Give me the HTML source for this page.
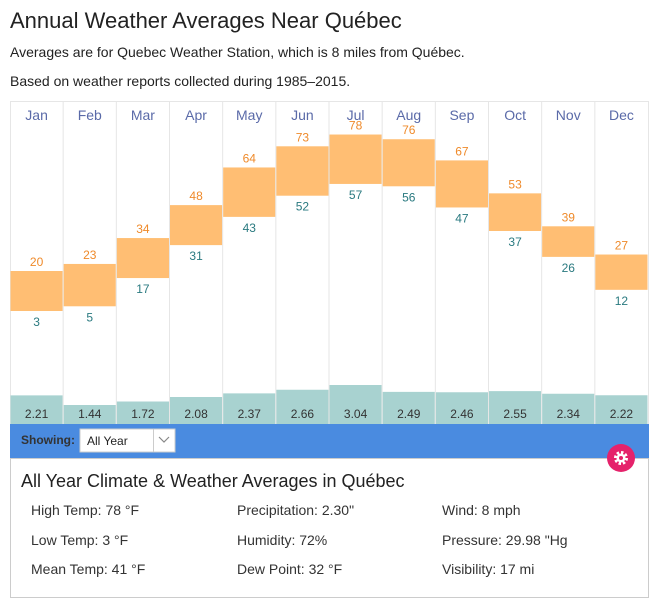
<!DOCTYPE html><html><head><meta charset="utf-8"><style>
body{margin:0;width:661px;height:606px;background:#fff;font-family:"Liberation Sans",sans-serif;color:#222;position:relative;overflow:hidden}
.a{position:absolute;white-space:nowrap}
</style></head><body>
<div class="a" style="left:10px;top:8px;font-size:22px;color:#222">Annual Weather Averages Near Québec</div>
<div class="a" style="left:10px;top:44px;font-size:14px">Averages are for Quebec Weather Station, which is 8 miles from Québec.</div>
<div class="a" style="left:10px;top:73px;font-size:14px">Based on weather reports collected during 1985–2015.</div>
<svg class="a" style="left:0;top:0" width="661" height="606" font-family="Liberation Sans, sans-serif">
<rect x="10.5" y="101.5" width="638" height="323" fill="none" stroke="#e6e6e6"/>
<g id="g"></g>
<rect x="10" y="424" width="639" height="34" fill="#4a8be0"/>
<text x="21" y="444" font-size="12" font-weight="bold" fill="#333">Showing:</text>
<rect x="80" y="429" width="95" height="23" fill="#fff" stroke="#ccc"/>
<line x1="153.5" y1="429" x2="153.5" y2="452" stroke="#ccc"/>
<text x="87" y="445" font-size="12" fill="#222">All Year</text>
<polyline points="159,437 164,442 169,437" fill="none" stroke="#888" stroke-width="1.2"/>
<rect x="10.5" y="458.5" width="638" height="139" fill="none" stroke="#ccc"/>
<circle cx="621" cy="458" r="14" fill="#e5226b"/>
<circle cx="621" cy="458" r="5" fill="none" stroke="#fff" stroke-width="4" stroke-dasharray="2.2 1.7"/>
<circle cx="621" cy="458" r="4.5" fill="#fff"/><circle cx="621" cy="458" r="2" fill="#e5226b"/>
<text x="21" y="487" font-size="18" fill="#222">All Year Climate &amp; Weather Averages in Québec</text>
<g font-size="14" fill="#333">
<text x="31" y="515">High Temp: 78 °F</text><text x="237" y="515">Precipitation: 2.30"</text><text x="442" y="515">Wind: 8 mph</text>
<text x="31" y="545">Low Temp: 3 °F</text><text x="237" y="545">Humidity: 72%</text><text x="442" y="545">Pressure: 29.98 "Hg</text>
<text x="31" y="574">Mean Temp: 41 °F</text><text x="237" y="574">Dew Point: 32 °F</text><text x="442" y="574">Visibility: 17 mi</text>
</g>
</svg>
<script>
var m=["Jan","Feb","Mar","Apr","May","Jun","Jul","Aug","Sep","Oct","Nov","Dec"],
hi=[20,23,34,48,64,73,78,76,67,53,39,27],lo=[3,5,17,31,43,52,57,56,47,37,26,12],
p=[2.21,1.44,1.72,2.08,2.37,2.66,3.04,2.49,2.46,2.55,2.34,2.22],s="",w=638/12;
function y(t){return 318.06-2.353*t}
for(var i=0;i<12;i++){var x=10+i*w,c=x+w/2;
if(i>0)s+='<line x1="'+x+'" y1="101" x2="'+x+'" y2="424" stroke="#e6e6e6"/>';
s+='<text x="'+c+'" y="120" font-size="14" fill="#5a6aa8" text-anchor="middle">'+m[i]+'</text>';
s+='<rect x="'+(x+0.5)+'" y="'+y(hi[i])+'" width="'+(w-1)+'" height="'+(y(lo[i])-y(hi[i]))+'" fill="#ffbe73"/>';
s+='<text x="'+c+'" y="'+(y(hi[i])-5)+'" font-size="12" fill="#ef8a2a" text-anchor="middle">'+hi[i]+'</text>';
s+='<text x="'+c+'" y="'+(y(lo[i])+15)+'" font-size="12" fill="#2a7a80" text-anchor="middle">'+lo[i]+'</text>';
var t=423-12.5*p[i];
s+='<rect x="'+(x+0.5)+'" y="'+t+'" width="'+(w-1)+'" height="'+(424-t)+'" fill="#a8d2d0"/>';
s+='<text x="'+c+'" y="418" font-size="12" fill="#333" text-anchor="middle">'+p[i].toFixed(2)+'</text>';}
document.getElementById("g").innerHTML=s;
</script>
</body></html>
